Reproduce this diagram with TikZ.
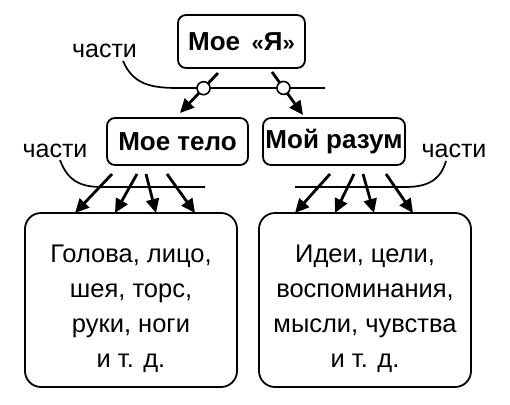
\documentclass[tikz,border=0pt]{standalone}
\usepackage{fontspec}
\setmainfont{Liberation Sans}
\usetikzlibrary{arrows.meta,calc}
\begin{document}
\begin{tikzpicture}[x=1pt,y=-1pt,
  boldbox/.style={draw,line width=1.8pt,rounded corners=8pt,inner sep=0pt,
    font=\fontsize{26}{30}\selectfont\bfseries},
  bigbox/.style={draw,line width=1.8pt,rounded corners=16pt,inner sep=0pt,
    minimum width=212pt,minimum height=174pt},
  bodytext/.style={align=center,anchor=base,inner sep=0pt,
    font=\fontsize{25.5}{34.7}\selectfont},
  partlabel/.style={anchor=base,inner sep=0pt,font=\fontsize{25}{30}\selectfont},
  partline/.style={line width=1.7pt},
  arr/.style={line width=2.8pt,-{Triangle[length=14pt,width=13pt]}},
  joint/.style={circle,draw,fill=white,line width=1.6pt,minimum size=13pt,inner sep=0pt}
]
\useasboundingbox (0,0) rectangle (510,404);

% boxes
\node[boldbox,minimum width=127pt,minimum height=53pt] (ja) at (241.5,41.5) {Мое \,{\fontsize{22}{26}\selectfont«}Я{\fontsize{22}{26}\selectfont»}};
\node[boldbox,minimum width=141pt,minimum height=47pt] (telo) at (177.5,141.5) {Мое тело};
\node[boldbox,minimum width=142pt,minimum height=47pt] (razum) at (334,141.5) {Мой разум};
\node[bigbox] (tb) at (131,300) {};
\node[bigbox] (rb) at (365,300) {};
\node[bodytext] (tbt) at (131,367) {Голова, лицо,\\шея, торс,\\руки, ноги\\и т. д.};
\node[bodytext] (rbt) at (365,367) {Идеи, цели,\\воспоминания,\\мысли, чувства\\и т. д.};

% labels
\node[partlabel] (p1) at (104.5,57) {части};
\node[partlabel] (p2) at (55,157) {части};
\node[partlabel] (p3) at (454,157) {части};

% part lines
\coordinate (l1e) at (325,88);
\draw[partline] (123,61) .. controls (133,84) and (150,88) .. (178,88) -- (l1e);
\draw[partline] (60,160) .. controls (68,182) and (82,187) .. (102,187) -- (205,187);
\draw[partline] (295,187) -- (405,187) .. controls (425,187) and (440,182) .. (446,161);

% top arrows
\coordinate (a1s) at (218,73);
\coordinate (a1e) at (180,113);
\coordinate (a2s) at (272,72);
\coordinate (a2e) at (303,115);
\draw[arr] (a1s) -- (a1e);
\draw[arr] (a2s) -- (a2e);
\node[joint] (j1) at ($(a1s)!0.38!(a1e)$) {};
\node[joint] (j2) at ($(a2s)!0.37!(a2e)$) {};

% left arrows
\foreach \sx/\ex [count=\i] in {112/75,137/115,146/156,167/195}{
  \coordinate (ls\i) at (\sx,174);
  \coordinate (le\i) at (\ex,213);
  \draw[arr] (ls\i) -- (le\i);
}
% right arrows
\foreach \sx/\ex [count=\i] in {330/295,354/335,363/374,386/413}{
  \coordinate (rs\i) at (\sx,174);
  \coordinate (re\i) at (\ex,213);
  \draw[arr] (rs\i) -- (re\i);
}
\end{tikzpicture}
\end{document}
